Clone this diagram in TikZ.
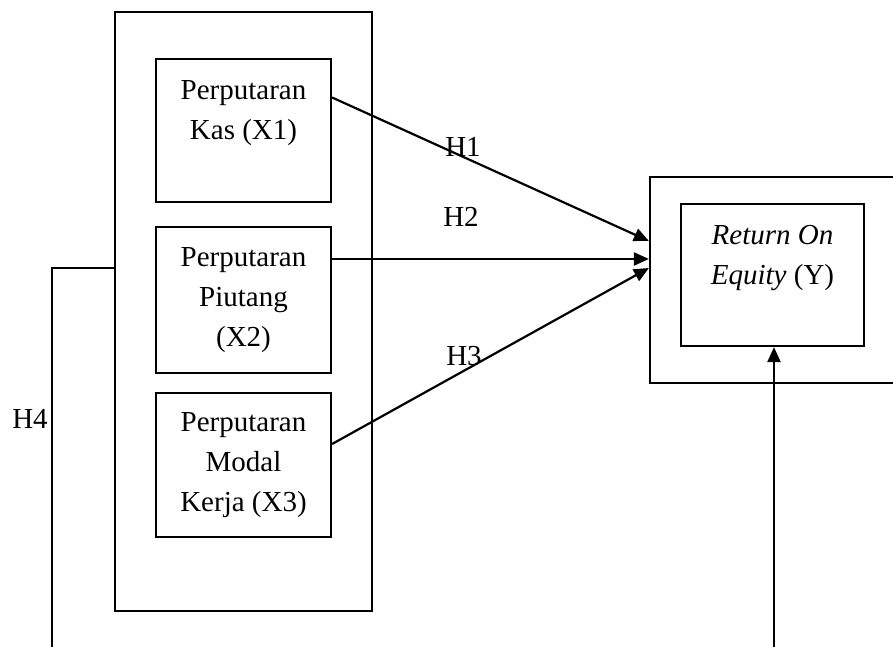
\documentclass[tikz,border=0pt]{standalone}
\usepackage{fontspec}
\setmainfont{Liberation Serif}
\usetikzlibrary{arrows.meta}

\begin{document}
\begin{tikzpicture}[x=1pt,y=-1pt,
    font={\fontsize{29}{40}\selectfont},
    kotak/.style={draw, line width=2.2pt, inner sep=0pt, align=center},
    panah/.style={line width=2.2pt, -{Triangle[length=15pt,width=13pt]}}]
        \useasboundingbox (0,0) rectangle (893,647);
        \clip (0,0) rectangle (893,647);

        % Variabel X
        \node[kotak, minimum width=257pt, minimum height=599pt] (kiri) at (243.5,311.5) {};
        \node[kotak, minimum width=175pt, minimum height=143pt] (x1) at (243.5,130.5) {Perputaran\\Kas (X1)\\\mbox{}};
        \node[kotak, minimum width=175pt, minimum height=146pt] (x2) at (243.5,300) {Perputaran\\Piutang\\(X2)};
        \node[kotak, minimum width=175pt, minimum height=144pt] (x3) at (243.5,465) {Perputaran\\Modal\\Kerja (X3)};

        % Variabel Y
        \node[kotak, minimum width=255pt, minimum height=206pt] (luar) at (777.5,280) {};
        \node[kotak, minimum width=183pt, minimum height=142pt] (roe) at (772.5,275) {\textit{Return On}\\\textit{Equity} (Y)\\\mbox{}};

        % Hipotesis
        \draw[panah] ([yshift=33pt]x1.east) -- ([yshift=39pt]luar.west);
        \draw[panah] ([yshift=41pt]x2.east) -- ([yshift=21pt]luar.west);
        \draw[panah] ([yshift=21pt]x3.east) -- ([yshift=12pt]luar.west);
        \node (h1) at (463,147) {H1};
        \node (h2) at (461,217) {H2};
        \node (h3) at (464,356) {H3};

        % H4
        \coordinate (bawahH4) at (52,660);
        \coordinate (bawahY) at (774,660);
        \draw[line width=2.2pt] ([yshift=43.5pt]kiri.west) -| (bawahH4);
        \draw[panah] (bawahY) -- (bawahY |- roe.south);
        \node (h4) at (30,419) {H4};
\end{tikzpicture}
\end{document}
